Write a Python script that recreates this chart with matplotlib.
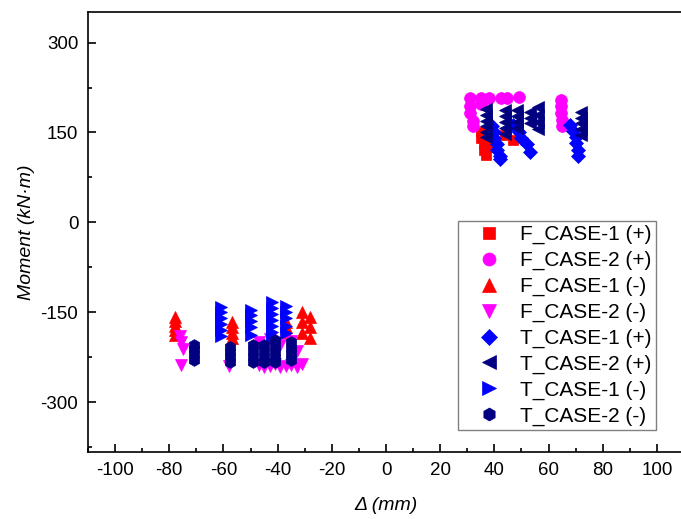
import numpy as np
import matplotlib as mpl
mpl.use('Agg')
import matplotlib.pyplot as plt
from matplotlib.ticker import MultipleLocator

plt.rcParams['font.family'] = ['Liberation Sans', 'DejaVu Sans']
plt.rcParams['axes.unicode_minus'] = False

#------------------- positive loading (top right) -------------------
f1p_x = [35, 35, 36, 36, 37, 38, 44, 47]
f1p_y = [150, 140, 130, 120, 113, 125, 145, 137]

f2p_x = [31, 31, 31, 32, 32, 35, 35, 38, 42.5, 44.5, 49, 64.5, 64.5, 64.5, 65, 65]
f2p_y = [208, 195, 182, 170, 160, 208, 198, 208, 207, 208, 209, 205, 195, 183, 171, 160]

t1p_x = [39, 40, 40, 41, 41, 42, 42, 47, 49, 50, 52, 53, 68, 69, 70, 70, 71, 71]
t1p_y = [160, 150, 140, 130, 120, 110, 105, 162, 150, 140, 130, 118, 162, 152, 142, 132, 120, 110]

t2p_x = [37, 37, 37, 37, 37, 37, 44, 44, 44, 44, 44, 48.5, 48.5, 48.5, 48.5, 53, 53, 53,
         56, 56, 56, 56, 72, 72, 72, 72, 72]
t2p_y = [190, 180, 170, 160, 150, 142, 188, 178, 168, 158, 148, 188, 178, 168, 158, 185, 175, 165,
         192, 180, 168, 155, 185, 175, 165, 155, 145]

#------------------- negative loading (bottom left) -----------------
f1n_x = [-78, -78, -78, -78, -78, -57, -57, -57, -57, -37, -37, -37, -31, -31, -31, -28, -28, -28]
f1n_y = [-158, -165, -172, -180, -188, -166, -175, -185, -193, -166, -175, -183,
         -150, -166, -185, -158, -175, -193]

f2n_x = [-76, -75.5, -75, -75.5, -58, -47, -45, -43, -41, -39, -37, -35, -33, -31,
         -47, -43, -39, -35, -33]
f2n_y = [-190, -200, -211, -238, -240, -238, -242, -240, -236, -242, -240, -238, -242, -236,
         -200, -195, -205, -198, -215]

t1n_x = [-61, -61, -61, -61, -61, -61, -50, -50, -50, -50, -50, -42, -42, -42, -42, -42, -42, -42,
         -37, -37, -37, -37, -37]
t1n_y = [-141, -150, -160, -170, -180, -190, -146, -155, -165, -175, -188, -133, -142, -152, -162,
         -172, -182, -191, -140, -150, -160, -172, -185]

t2n_x = [-71, -71, -71, -71, -57.5, -57.5, -57.5, -57.5, -49, -49, -49, -49, -45, -45, -45, -45,
         -41, -41, -41, -41, -41, -35, -35, -35, -35]
t2n_y = [-205, -212, -220, -230, -208, -216, -225, -233, -205, -215, -225, -233, -205, -215, -225, -233,
         -196, -206, -216, -226, -233, -200, -210, -220, -230]

series = [
    (f1p_x, f1p_y, 's', '#FF0000', 'F_CASE-1 (+)'),
    (f2p_x, f2p_y, 'o', '#FF00FF', 'F_CASE-2 (+)'),
    (f1n_x, f1n_y, '^', '#FF0000', 'F_CASE-1 (-)'),
    (f2n_x, f2n_y, 'v', '#FF00FF', 'F_CASE-2 (-)'),
    (t1p_x, t1p_y, 'D', '#0000FF', 'T_CASE-1 (+)'),
    (t2p_x, t2p_y, '<', '#000080', 'T_CASE-2 (+)'),
    (t1n_x, t1n_y, '>', '#0000FF', 'T_CASE-1 (-)'),
    (t2n_x, t2n_y, 'h', '#000080', 'T_CASE-2 (-)'),
]
sizes = {'s': 7.5, 'o': 8.5, '^': 9, 'v': 9, 'D': 7, '<': 9, '>': 9, 'h': 8.5}

fig = plt.figure(figsize=(6.81, 5.19), dpi=100)
ax = fig.add_axes([88/681, 1 - 452/519, 596/681, 440/519])

for xs, ys, m, c, lab in series:
    ax.plot(xs, ys, ls='none', marker=m, ms=sizes[m], mfc=c, mec=c, mew=0.5, label=lab)

ax.set_xlim(-110, 110)
ax.set_ylim(-383, 351)
ax.xaxis.set_major_locator(MultipleLocator(20))
ax.xaxis.set_minor_locator(MultipleLocator(10))
ax.yaxis.set_major_locator(MultipleLocator(150))
ax.yaxis.set_minor_locator(MultipleLocator(75))
ax.tick_params(which='both', direction='in', top=False, right=False, labelsize=13.5, width=1.2)
ax.tick_params(which='major', length=6, pad=7)
ax.tick_params(which='minor', length=3)
for sp in ax.spines.values():
    sp.set_linewidth(1.2)

ax.set_xlabel('Δ (mm)', fontsize=14, style='italic', labelpad=13)
ax.set_ylabel('Moment (kN·m)', fontsize=14, style='italic', labelpad=4)

leg = ax.legend(loc='lower right', bbox_to_anchor=(0.953, 0.05), fontsize=15, fancybox=False,
                edgecolor='#808080', framealpha=1, handletextpad=0.2, labelspacing=0.32,
                borderpad=0.2, borderaxespad=0, handlelength=2.58, markerscale=1.1)
leg.get_frame().set_linewidth(1.0)

fig.savefig('out.png', dpi=100)
